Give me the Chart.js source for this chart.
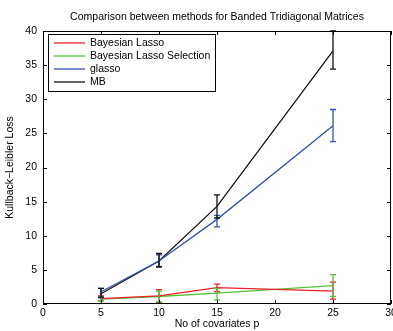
<!DOCTYPE html>
<html>
<head>
<meta charset="utf-8">
<script src="https://cdn.jsdelivr.net/npm/chart.js@4.4.1/dist/chart.umd.min.js"></script>
<style>
  html, body { margin: 0; padding: 0; background: #fff; }
  #wrap { width: 393px; height: 331px; }
</style>
</head>
<body>
<div id="wrap"><canvas id="klChart" width="393" height="331"></canvas></div>
<script>
// datos
const covariates = [5, 10, 15, 25];
const xTicks = [0, 5, 10, 15, 20, 25, 30];
const yTicks = [0, 5, 10, 15, 20, 25, 30, 35, 40];

const lassoMean = [0.8, 1.2, 2.4, 1.9];
const lassoLow  = [0.4, 0.2, 1.8, 0.7];
const lassoHigh = [1.2, 2.1, 2.9, 3.2];

const selMean = [0.7, 1.1, 1.6, 2.7];
const selLow  = [0.4, 0.3, 0.6, 1.1];
const selHigh = [1.0, 1.9, 2.3, 4.3];

const glassoMean = [1.8, 6.3, 12.4, 26.1];
const glassoLow  = [0.9, 5.5, 11.3, 23.8];
const glassoHigh = [2.3, 7.2, 13.0, 28.5];

const mbMean = [1.5, 6.3, 14.3, 37.1];
const mbLow  = [1.0, 5.4, 12.6, 34.4];
const mbHigh = [2.3, 7.4, 16.0, 40.0];

const titulo = 'Comparison between methods for Banded Tridiagonal Matrices';
const font = 'Liberation Sans, Arial, sans-serif';

function toPoints(ys) {
    return covariates.map((p, i) => ({ x: p, y: ys[i] }));
}

function makeSet(label, color, mean, low, high) {
    return {
        label: label,
        data: toPoints(mean),
        low: low,
        high: high,
        borderColor: color,
        backgroundColor: color,
        borderWidth: 1.3,
        pointRadius: 0,
        tension: 0
    };
}

// barras de error, marco, titulo y leyenda a mano (estilo matlab)
const matlabStyle = {
    id: 'matlabStyle',
    afterDatasetsDraw(chart) {
        const ctx = chart.ctx;
        const xs = chart.scales.x, ys = chart.scales.y;
        ctx.save();
        chart.data.datasets.forEach(ds => {
            ctx.strokeStyle = ds.borderColor;
            ctx.lineWidth = 1.3;
            covariates.forEach((p, i) => {
                const px = xs.getPixelForValue(p);
                const y1 = ys.getPixelForValue(ds.low[i]);
                const y2 = ys.getPixelForValue(ds.high[i]);
                ctx.beginPath();
                ctx.moveTo(px, y1); ctx.lineTo(px, y2);
                ctx.moveTo(px - 3, y1); ctx.lineTo(px + 3, y1);
                ctx.moveTo(px - 3, y2); ctx.lineTo(px + 3, y2);
                ctx.stroke();
            });
        });
        ctx.restore();
    },
    afterDraw(chart) {
        const ctx = chart.ctx;
        const a = chart.chartArea;
        const xs = chart.scales.x, ys = chart.scales.y;
        ctx.save();
        ctx.strokeStyle = '#000';
        ctx.lineWidth = 1;
        ctx.strokeRect(a.left + 0.5, a.top + 0.5, a.right - a.left - 1, a.bottom - a.top - 1);
        ctx.beginPath();
        xTicks.forEach(t => {
            const px = Math.round(xs.getPixelForValue(t)) + 0.5;
            ctx.moveTo(px, a.bottom); ctx.lineTo(px, a.bottom - 4);
            ctx.moveTo(px, a.top); ctx.lineTo(px, a.top + 4);
        });
        yTicks.forEach(t => {
            const py = Math.round(ys.getPixelForValue(t)) + 0.5;
            ctx.moveTo(a.left, py); ctx.lineTo(a.left + 4, py);
            ctx.moveTo(a.right, py); ctx.lineTo(a.right - 4, py);
        });
        ctx.stroke();

        // titulo centrado sobre el area del grafico
        ctx.fillStyle = '#000';
        ctx.font = '10.5px ' + font;
        ctx.textAlign = 'center';
        ctx.textBaseline = 'middle';
        ctx.fillText(titulo, (a.left + a.right) / 2, 17);

        // leyenda
        const lx = a.left + 5, ly = a.top + 3;
        ctx.fillStyle = '#fff';
        ctx.fillRect(lx, ly, 167, 57);
        ctx.strokeRect(lx + 0.5, ly + 0.5, 167, 57);
        ctx.textAlign = 'left';
        chart.data.datasets.forEach((ds, i) => {
            const y = ly + 9 + i * 13;
            ctx.strokeStyle = ds.borderColor;
            ctx.lineWidth = 1.3;
            ctx.beginPath();
            ctx.moveTo(lx + 6, y); ctx.lineTo(lx + 37, y);
            ctx.stroke();
            ctx.fillStyle = '#000';
            ctx.fillText(ds.label, lx + 42, y);
        });
        ctx.restore();
    }
};

function renderChart() {
    const ctx = document.getElementById('klChart').getContext('2d');
    new Chart(ctx, {
        type: 'line',
        data: {
            datasets: [
                makeSet('Bayesian Lasso', '#e8202a', lassoMean, lassoLow, lassoHigh),
                makeSet('Bayesian Lasso Selection', '#55c23a', selMean, selLow, selHigh),
                makeSet('glasso', '#3552ad', glassoMean, glassoLow, glassoHigh),
                makeSet('MB', '#111111', mbMean, mbLow, mbHigh)
            ]
        },
        options: {
            responsive: false,
            animation: false,
            layout: { padding: { left: 0, right: 2, top: 31, bottom: 0 } },
            plugins: {
                legend: { display: false },
                tooltip: { enabled: false },
                title: { display: false }
            },
            scales: {
                x: {
                    type: 'linear',
                    min: 0, max: 30,
                    afterBuildTicks: s => { s.ticks = xTicks.map(v => ({ value: v })); },
                    afterFit: s => { s.height = 27; s.paddingLeft = 0; s.paddingRight = 0; },
                    grid: { display: false, drawTicks: false },
                    border: { display: false },
                    ticks: { color: '#000', font: { family: font, size: 10.5 }, padding: 3 },
                    title: {
                        display: true, text: 'No of covariates p', color: '#000',
                        font: { family: font, size: 10.5 }, padding: { top: 0, bottom: 1 }
                    }
                },
                y: {
                    min: 0, max: 40,
                    afterBuildTicks: s => { s.ticks = yTicks.map(v => ({ value: v })); },
                    afterFit: s => { s.width = 43; s.paddingTop = 0; s.paddingBottom = 0; },
                    grid: { display: false, drawTicks: false },
                    border: { display: false },
                    ticks: { color: '#000', font: { family: font, size: 10.5 }, padding: 6 },
                    title: {
                        display: true, text: 'Kullback\u2212Leibler Loss', color: '#000',
                        font: { family: font, size: 10.5 }, padding: { top: 4, bottom: 0 }
                    }
                }
            }
        },
        plugins: [matlabStyle]
    });
}

renderChart();
</script>
</body>
</html>
